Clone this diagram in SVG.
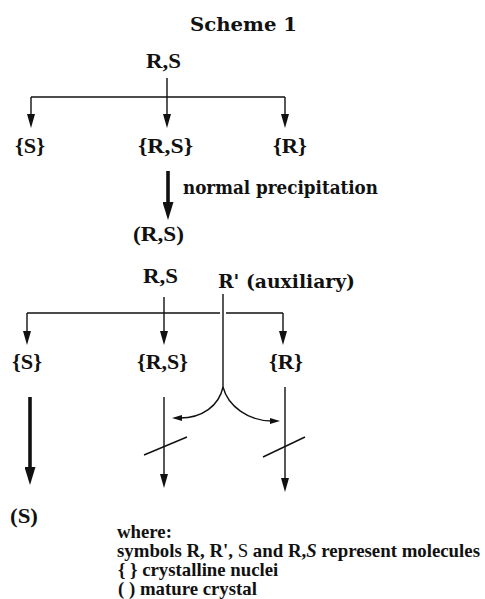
<svg xmlns="http://www.w3.org/2000/svg" width="485" height="599" viewBox="0 0 485 599">
<style>
.t{font-family:"Liberation Serif","Times New Roman",serif;font-weight:bold;fill:#111}
.c{font-family:"DejaVu Serif","Liberation Serif",serif;font-weight:bold;fill:#111}
.ln{stroke:#111;fill:none;stroke-width:1.4}
.tk{stroke:#111;fill:none;stroke-width:3.6}
</style>
<defs>
<marker id="ah" markerUnits="userSpaceOnUse" viewBox="0 0 14 8" markerWidth="14" markerHeight="8" refX="0" refY="4" orient="auto"><path d="M0,0 L14,4 L0,8 z" fill="#111"/></marker>
<marker id="ahk" markerUnits="userSpaceOnUse" viewBox="0 0 18 11" markerWidth="18" markerHeight="11" refX="0" refY="5.5" orient="auto"><path d="M0,0 L18,5.5 L0,11 z" fill="#111"/></marker>
<marker id="ahs" markerUnits="userSpaceOnUse" viewBox="0 0 10 6" markerWidth="10" markerHeight="6" refX="2" refY="3" orient="auto"><path d="M0,0 L10,3 L0,6 z" fill="#111"/></marker>
</defs>
<text class="c" x="190" y="31" font-size="19" textLength="107" lengthAdjust="spacingAndGlyphs">Scheme 1</text>
<g id="rs1"><text class="t" x="146" y="68" font-size="22" textLength="35" lengthAdjust="spacingAndGlyphs">R,S</text></g>
<g id="s1"><text class="t" x="15" y="153" font-size="22" textLength="30" lengthAdjust="spacingAndGlyphs">{S}</text></g>
<g id="rsn1"><text class="t" x="138" y="153" font-size="22" textLength="55" lengthAdjust="spacingAndGlyphs">{R,S}</text></g>
<g id="r1"><text class="t" x="273" y="153" font-size="22" textLength="34" lengthAdjust="spacingAndGlyphs">{R}</text></g>
<g id="np"><text class="c" x="183" y="194" font-size="18" textLength="195" lengthAdjust="spacingAndGlyphs">normal precipitation</text></g>
<g id="rsc"><text class="t" x="133" y="241" font-size="22" textLength="51" lengthAdjust="spacingAndGlyphs">(R,S)</text></g>
<g id="rs2"><text class="t" x="143" y="283" font-size="22" textLength="35" lengthAdjust="spacingAndGlyphs">R,S</text></g>
<g id="aux"><text class="c" x="218" y="288" font-size="19" textLength="137" lengthAdjust="spacingAndGlyphs">R' (auxiliary)</text></g>
<g id="s2"><text class="t" x="12" y="369" font-size="22" textLength="30" lengthAdjust="spacingAndGlyphs">{S}</text></g>
<g id="rsn2"><text class="t" x="137" y="369" font-size="22" textLength="51" lengthAdjust="spacingAndGlyphs">{R,S}</text></g>
<g id="r2"><text class="t" x="269" y="369" font-size="22" textLength="34" lengthAdjust="spacingAndGlyphs">{R}</text></g>
<g id="sc"><text class="t" x="10" y="523" font-size="22" textLength="28" lengthAdjust="spacingAndGlyphs">(S)</text></g>
<g id="legend" class="t" font-size="18.8">
<text x="117" y="538">where:</text>
<text x="117" y="557" textLength="363" lengthAdjust="spacingAndGlyphs">symbols R, R', <tspan font-weight="normal">S</tspan> and R,<tspan font-style="italic">S</tspan> represent molecules</text>
<text x="118" y="576">{ } crystalline nuclei</text>
<text x="118" y="595">(  ) mature crystal</text>
</g>
<g id="connectors">
<path class="ln" d="M167,78 V114" marker-end="url(#ah)"/>
<path class="ln" d="M31,97 H285"/>
<path class="ln" d="M31,97 V114" marker-end="url(#ah)"/>
<path class="ln" d="M285,97 V114" marker-end="url(#ah)"/>
<path class="tk" d="M168,171 V202" marker-end="url(#ahk)"/>
<path class="ln" d="M164,297 V331" marker-end="url(#ah)"/>
<path class="ln" d="M27,313 H220 M226,313 H283"/>
<path class="ln" d="M27,313 V331" marker-end="url(#ah)"/>
<path class="ln" d="M283,313 V331" marker-end="url(#ah)"/>
<path class="ln" d="M223,294 V387"/>
<path class="ln" d="M223,387 C219,406 202,418 180,418" marker-end="url(#ahs)"/>
<path class="ln" d="M223,387 C228,406 248,421 272,421" marker-end="url(#ahs)"/>
<path class="tk" d="M30,397 V467" marker-end="url(#ahk)"/>
<path class="ln" d="M164,397 V474" marker-end="url(#ah)"/>
<path class="ln" d="M285,387 V478" marker-end="url(#ah)"/>
<path class="ln" d="M144,455 L187,437"/>
<path class="ln" d="M263,457 L305,437"/>
</g>
</svg>
